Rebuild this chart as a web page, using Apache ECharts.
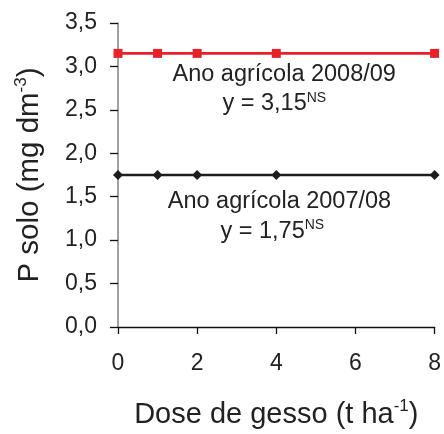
<!DOCTYPE html>
<html>
<head>
<meta charset="utf-8">
<script src="https://cdn.jsdelivr.net/npm/echarts@6/dist/echarts.min.js"></script>
<style>
  html, body { margin: 0; padding: 0; background: #fff; }
  #chart { width: 444px; height: 434px; }
</style>
</head>
<body>
<div id="chart"></div>
<script>
// Gypsum doses (t/ha) and soil P for the two crop years
const doses = [0, 1, 2, 4, 8];
const p2008 = [3.15, 3.15, 3.15, 3.15, 3.15];
const p2007 = [1.75, 1.75, 1.75, 1.75, 1.75];
const xTicks = [0, 2, 4, 6, 8];
const yTicks = [0, 0.5, 1, 1.5, 2, 2.5, 3, 3.5];

const FONT = '"Liberation Sans", Arial, sans-serif';
const fmt = v => v.toFixed(1).replace('.', ',');

const chart = echarts.init(document.getElementById('chart'), null, { renderer: 'canvas' });

const option = {
  animation: false,
  backgroundColor: '#fff',
  textStyle: { fontFamily: FONT },
  grid: { left: 118, right: 8, top: 23, bottom: 102, containLabel: false },
  xAxis: {
    type: 'value',
    min: xTicks[0],
    max: xTicks[xTicks.length - 1],
    interval: 2,
    splitLine: { show: false },
    axisLine: { onZero: false, lineStyle: { color: '#111', width: 1.3 } },
    axisTick: { show: true, length: 7, lineStyle: { color: '#111', width: 1.3 } },
    axisLabel: { margin: 25, fontSize: 23, color: '#222', fontFamily: FONT },
    name: 'Dose de gesso (t ha{sup|-1})',
    nameLocation: 'middle',
    nameGap: 71,
    nameTextStyle: {
      fontSize: 29, color: '#222', fontFamily: FONT,
      rich: { sup: { fontSize: 17, verticalAlign: 'top', color: '#222', fontFamily: FONT, padding: [0, 0, 16, 0] } }
    }
  },
  yAxis: {
    type: 'value',
    min: yTicks[0],
    max: yTicks[yTicks.length - 1],
    interval: 0.5,
    splitLine: { show: false },
    axisLine: { onZero: false, lineStyle: { color: '#8a8a8a', width: 1.6 } },
    axisTick: { show: true, length: 8, lineStyle: { color: '#111', width: 1.3 } },
    axisLabel: { margin: 21, fontSize: 23, color: '#222', fontFamily: FONT, formatter: fmt },
    name: 'P solo (mg dm{sup|-3})',
    nameLocation: 'middle',
    nameRotate: 90,
    nameGap: 72,
    nameTextStyle: {
      fontSize: 29.5, color: '#222', fontFamily: FONT,
      rich: { sup: { fontSize: 17, verticalAlign: 'top', color: '#222', fontFamily: FONT, padding: [0, 0, 16, 0] } }
    }
  },
  series: [
    {
      name: '2008/09',
      type: 'line',
      data: doses.map((d, i) => [d, p2008[i]]),
      symbol: 'rect',
      symbolSize: 9,
      itemStyle: { color: '#e62228' },
      lineStyle: { color: '#e62228', width: 2.6 },
      z: 3
    },
    {
      name: '2007/08',
      type: 'line',
      data: doses.map((d, i) => [d, p2007[i]]),
      symbol: 'diamond',
      symbolSize: 10,
      itemStyle: { color: '#1c1c1c' },
      lineStyle: { color: '#1c1c1c', width: 2.6 },
      z: 3
    }
  ]
};
chart.setOption(option);

// Regression annotations, anchored in data coordinates
const notes = [
  { at: [4.2, 2.91], text: 'Ano agrícola 2008/09' },
  { at: [3.95, 2.57], text: 'y = 3,15{sup|NS}' },
  { at: [4.08, 1.44], text: 'Ano agrícola 2007/08' },
  { at: [3.9, 1.10], text: 'y = 1,75{sup|NS}' }
];
chart.setOption({
  graphic: notes.map(n => {
    const p = chart.convertToPixel({ gridIndex: 0 }, n.at);
    return {
      type: 'text',
      x: p[0], y: p[1],
      style: {
        text: n.text,
        fontSize: 23.5,
        fontFamily: FONT,
        fill: '#222',
        align: 'center',
        verticalAlign: 'middle',
        rich: { sup: { fontSize: 14, verticalAlign: 'top', fill: '#222', fontFamily: FONT, padding: [0, 0, 12, 0] } }
      }
    };
  })
});
</script>
</body>
</html>
